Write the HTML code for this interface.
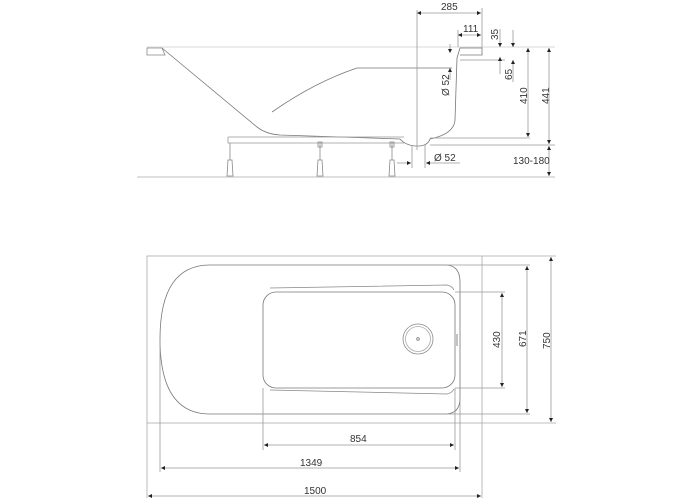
<!DOCTYPE html>
<html><head><meta charset="utf-8"><style>
html,body{margin:0;padding:0;background:#fff;width:700px;height:500px;overflow:hidden}
svg{display:block}
text{font-family:"Liberation Sans",sans-serif;font-size:10px;fill:#333}
</style></head><body>
<svg width="700" height="500" viewBox="0 0 700 500">
<defs>
<marker id="a" viewBox="0 0 6 6" refX="6" refY="3" markerWidth="5" markerHeight="5" orient="auto-start-reverse"><path d="M0,0 L6,3 L0,6z" fill="#222"/></marker>
</defs>
<g fill="none" stroke="#999" stroke-width="0.8">
<!-- side view -->
<line x1="147" y1="47" x2="555" y2="47" stroke="#ccc"/>
<line x1="137" y1="177" x2="555" y2="177" stroke="#aaa"/>
<path d="M147,48 L162,48 L165,55 L147,55 Z" stroke="#888"/>
<path d="M162,48 L257,127 Q266,134 280,135 L400,139 Q405,145 415,146 L420,146 Q428,145 430,139 Q454,134 455,120 L457,58 L460,48 L482,48 L482,55 L460,55" stroke="#777"/>
<path d="M272,112 Q315,82 357,68 L452,68" stroke="#777"/>
<path d="M228,137 L404,137 M228,137 L228,143 L404,143" stroke="#999"/>
<g stroke="#888">
<line x1="230" y1="143" x2="230" y2="160"/><path d="M228,160 L232,160 L233,176 L227,176Z"/>
<line x1="320" y1="143" x2="320" y2="160"/><path d="M318,142 h4 v5 h-4z"/><path d="M318,160 L322,160 L323,176 L317,176Z"/>
<line x1="392" y1="143" x2="392" y2="160"/><path d="M390,142 h4 v5 h-4z"/><path d="M390,160 L394,160 L395,176 L389,176Z"/>
</g>
<line x1="417" y1="10" x2="417" y2="150"/>
<line x1="482" y1="8" x2="482" y2="48"/>
<line x1="458" y1="30" x2="458" y2="47"/>
<line x1="417" y1="13" x2="481" y2="13" marker-start="url(#a)" marker-end="url(#a)"/>
<line x1="458" y1="35" x2="481" y2="35" marker-start="url(#a)" marker-end="url(#a)"/>
<line x1="500" y1="29" x2="500" y2="47" marker-end="url(#a)"/>
<line x1="513" y1="30" x2="513" y2="47" marker-end="url(#a)"/>
<line x1="460" y1="60" x2="505" y2="60"/>
<line x1="500" y1="74" x2="500" y2="57" marker-end="url(#a)"/>
<line x1="513" y1="82" x2="513" y2="60" marker-end="url(#a)"/>
<line x1="450" y1="44" x2="450" y2="53" marker-end="url(#a)"/>
<line x1="450" y1="80" x2="450" y2="68" marker-end="url(#a)"/>
<line x1="430" y1="138" x2="530" y2="138"/>
<line x1="528" y1="48" x2="528" y2="137" marker-start="url(#a)" marker-end="url(#a)"/>
<line x1="430" y1="145" x2="555" y2="145"/>
<line x1="549" y1="48" x2="549" y2="144" marker-start="url(#a)" marker-end="url(#a)"/>
<line x1="549" y1="146" x2="549" y2="176" marker-start="url(#a)" marker-end="url(#a)"/>
<line x1="412" y1="145" x2="412" y2="168"/>
<line x1="425" y1="145" x2="425" y2="168"/>
<line x1="397" y1="163" x2="411" y2="163" marker-end="url(#a)"/>
<line x1="460" y1="163" x2="426" y2="163" marker-end="url(#a)"/>
<!-- top view -->
<rect x="147" y="256" width="335" height="167" stroke="#aaa"/>
<line x1="482" y1="256" x2="556" y2="256" stroke="#aaa"/>
<line x1="482" y1="423" x2="556" y2="423" stroke="#aaa"/>
<line x1="482" y1="423" x2="482" y2="498" stroke="#aaa"/>
<line x1="147" y1="423" x2="147" y2="498" stroke="#aaa"/>
<path d="M210,265 L445,265 Q460,265 460,282 L460,398 Q460,414 445,414 L210,414 Q160,414 160,339 Q160,265 210,265Z" stroke="#777"/>
<rect x="263" y="292" width="192" height="96" rx="13" stroke="#777"/>
<path d="M270,288 L447,285 Q452,286 454,290 M270,390 L447,394 Q452,393 454,389" stroke="#888"/>
<circle cx="418" cy="339" r="15" stroke="#888"/><circle cx="418" cy="339" r="12.5" stroke="#aaa"/><circle cx="418" cy="339" r="1.3" stroke="#777"/>
<line x1="457" y1="334" x2="457" y2="346" stroke="#666"/>
<line x1="455" y1="292" x2="505" y2="292"/>
<line x1="455" y1="388" x2="505" y2="388"/>
<line x1="502" y1="293" x2="502" y2="387" marker-start="url(#a)" marker-end="url(#a)"/>
<line x1="445" y1="265" x2="530" y2="265"/>
<line x1="445" y1="414" x2="530" y2="414"/>
<line x1="527" y1="266" x2="527" y2="413" marker-start="url(#a)" marker-end="url(#a)"/>
<line x1="551" y1="257" x2="551" y2="422" marker-start="url(#a)" marker-end="url(#a)"/>
<line x1="263" y1="388" x2="263" y2="450"/>
<line x1="455" y1="388" x2="455" y2="450"/>
<line x1="160" y1="339" x2="160" y2="472"/>
<line x1="460" y1="400" x2="460" y2="472"/>
<line x1="264" y1="445" x2="454" y2="445" marker-start="url(#a)" marker-end="url(#a)"/>
<line x1="161" y1="468" x2="459" y2="468" marker-start="url(#a)" marker-end="url(#a)"/>
<line x1="148" y1="496" x2="481" y2="496" marker-start="url(#a)" marker-end="url(#a)"/>
</g>
<text x="441" y="10">285</text>
<text x="463" y="32">111</text>
<text transform="translate(498,40) rotate(-90)">35</text>
<text transform="translate(512,80) rotate(-90)">65</text>
<text transform="translate(449,96) rotate(-90)">Ø 52</text>
<text transform="translate(527,104) rotate(-90)">410</text>
<text transform="translate(549,104) rotate(-90)">441</text>
<text x="434" y="161">Ø 52</text>
<text x="513" y="164">130-180</text>
<text transform="translate(500,348) rotate(-90)">430</text>
<text transform="translate(526,347) rotate(-90)">671</text>
<text transform="translate(550,349) rotate(-90)">750</text>
<text x="350" y="442">854</text>
<text x="300" y="466">1349</text>
<text x="304" y="494">1500</text>
</svg>
</body></html>
